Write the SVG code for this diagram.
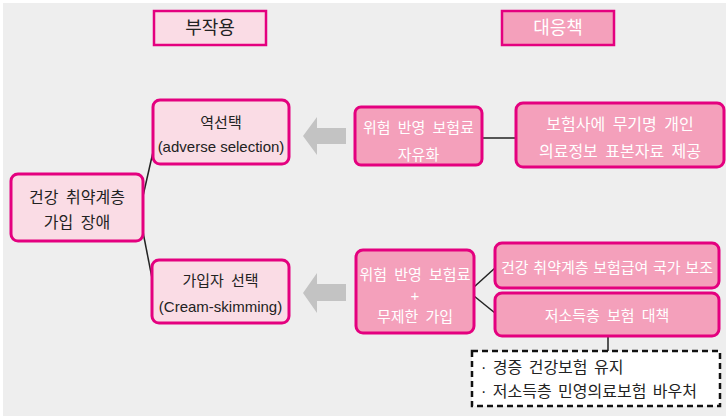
<svg xmlns="http://www.w3.org/2000/svg" width="726" height="416" viewBox="0 0 726 416">
<defs>
<style>
.bg{fill:#eeeeee}
.light{fill:#fadce5;stroke:#e4007f;stroke-width:3}
.mid{fill:#f4a0bb;stroke:#e4007f;stroke-width:3}
.hl{fill:#fadce5;stroke:#e4007f;stroke-width:2.5}
.hm{fill:#f4a0bb;stroke:#e4007f;stroke-width:2.5}
text{font-family:"Liberation Sans","Noto Sans CJK KR",sans-serif;text-anchor:middle;dominant-baseline:central;word-spacing:3px}
.dk{fill:#222222}
.wt{fill:#ffffff}
.conn line{stroke:#222222;stroke-width:1.5}
.arrow{fill:#c3c3c3}
.note{fill:#ffffff;stroke:#111111;stroke-width:2.5;stroke-dasharray:6 4}
</style>
</defs>
<rect width="726" height="416" fill="#ffffff"/>
<rect class="bg" x="3" y="3" width="723" height="413"/>

<g id="conn" class="conn">
<line x1="143" y1="196" x2="153" y2="152"/>
<line x1="143" y1="232" x2="152" y2="278"/>
<line x1="482" y1="138" x2="516" y2="138"/>
<line x1="474" y1="287" x2="495" y2="268"/>
<line x1="474" y1="296" x2="495" y2="313"/>
<line x1="608" y1="336" x2="608" y2="351"/>
<polygon class="arrow" points="303,136 317,117 317,128 346,128 346,144 317,144 317,155"/>
<polygon class="arrow" points="303,293 317,273 317,284 346,284 346,301 317,301 317,313"/>
</g>

<g id="h-side">
<rect class="hl" x="154" y="11" width="112" height="34"/>
<text class="dk" x="210" y="28" font-size="18">부작용</text>
</g>
<g id="h-resp">
<rect class="hm" x="502" y="11" width="112" height="34"/>
<text class="wt" x="558" y="28" font-size="18">대응책</text>
</g>

<g id="root">
<rect class="light" x="11" y="174" width="132" height="67" rx="7"/>
<text class="dk" x="77" y="197" font-size="16">건강 취약계층</text>
<text class="dk" x="77" y="222" font-size="16">가입 장애</text>
</g>

<g id="adverse">
<rect class="light" x="153" y="100" width="136" height="64" rx="7"/>
<text class="dk" x="221" y="122" font-size="15">역선택</text>
<text class="dk" x="221" y="146" font-size="15" style="word-spacing:0">(adverse selection)</text>
</g>

<g id="cream">
<rect class="light" x="152" y="260" width="137" height="63" rx="7"/>
<text class="dk" x="220.5" y="280" font-size="15">가입자 선택</text>
<text class="dk" x="220.5" y="306" font-size="15">(Cream-skimming)</text>
</g>

<g id="m1">
<rect class="mid" x="355" y="107" width="127" height="58" rx="6"/>
<text class="wt" x="418.5" y="127" font-size="15">위험 반영 보험료</text>
<text class="wt" x="418.5" y="154" font-size="15">자유화</text>
</g>

<g id="r1">
<rect class="mid" x="516" y="103" width="208" height="64" rx="7"/>
<text class="wt" x="620" y="124" font-size="16">보험사에 무기명 개인</text>
<text class="wt" x="620" y="151" font-size="16">의료정보 표본자료 제공</text>
</g>

<g id="m2">
<rect class="mid" x="356" y="250" width="118" height="83" rx="7"/>
<text class="wt" x="415" y="274" font-size="15">위험 반영 보험료</text>
<text class="wt" x="415" y="295" font-size="15">+</text>
<text class="wt" x="415" y="316" font-size="15">무제한 가입</text>
</g>

<g id="r2">
<rect class="mid" x="495" y="243" width="224" height="45" rx="7"/>
<text class="wt" x="607" y="267" font-size="15" style="word-spacing:0.5px">건강 취약계층 보험급여 국가 보조</text>
</g>

<g id="r3">
<rect class="mid" x="495" y="293" width="224" height="43" rx="7"/>
<text class="wt" x="607" y="315" font-size="15">저소득층 보험 대책</text>
</g>

<g id="note">
<rect class="note" x="472" y="351" width="248" height="55"/>
<text class="dk" x="481" y="367" font-size="16" style="text-anchor:start;word-spacing:2px">· 경증 건강보험 유지</text>
<text class="dk" x="481" y="391" font-size="16" style="text-anchor:start;word-spacing:2px">· 저소득층 민영의료보험 바우처</text>
</g>
</svg>
